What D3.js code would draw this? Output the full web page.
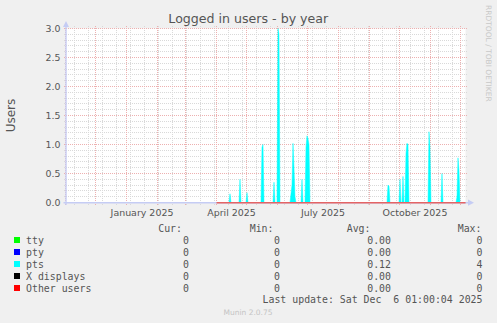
<!DOCTYPE html>
<html>
<head>
<meta charset="utf-8">
<script src="https://cdn.jsdelivr.net/npm/d3@7"></script>
<style>
body { margin: 0; background: #f0f0f0; }
text { font-family: "DejaVu Sans"; }
.mono { font-family: "DejaVu Sans Mono"; }
</style>
</head>
<body>
<script>
// pts daily averages (days not listed are 0)
var ptsDays = ["2025-04-14", "2025-04-24", "2025-05-01", "2025-05-16", "2025-05-17", "2025-05-28",
	"2025-06-01", "2025-06-02", "2025-06-14", "2025-06-15", "2025-06-16", "2025-06-17", "2025-06-18",
	"2025-06-25", "2025-06-29", "2025-06-30", "2025-07-01", "2025-07-02",
	"2025-09-19", "2025-09-20", "2025-10-01", "2025-10-04", "2025-10-07", "2025-10-08", "2025-10-09",
	"2025-10-30", "2025-10-31", "2025-11-12", "2025-11-27", "2025-11-28", "2025-11-29"];
var ptsUsers = [0.15, 0.4, 0.17, 0.95, 1.0, 0.35,
	3.0, 2.9, 0.15, 0.3, 1.02, 0.6, 0.1,
	0.4, 0.95, 1.15, 1.1, 1.0,
	0.3, 0.28, 0.4, 0.45, 0.85, 1.02, 1.0,
	1.22, 0.95, 0.5, 0.1, 0.77, 0.55];

var dataStart = "2025-04-01";
var graphStart = "2024-11-01";
var graphEnd = "2025-12-06T01:00:04Z";

var seriesNames = ["tty", "pty", "pts", "X displays", "Other users"];
var seriesColors = ["#00ff00", "#0000ff", "#00ffff", "#000000", "#ff0000"];
var curValues = ["0", "0", "0", "0", "0"];
var minValues = ["0", "0", "0", "0", "0"];
var avgValues = ["0.00", "0.00", "0.12", "0.00", "0.00"];
var maxValues = ["0", "0", "4", "0", "0"];

var width = 497;
var height = 323;

var parseDay = d3.utcParse("%Y-%m-%d");
var t0 = parseDay(graphStart);
var t1 = new Date(graphEnd);
var tData = parseDay(dataStart);

var x = d3.scaleUtc().domain([t0, t1]).range([65.5, 465.54]);
var y = d3.scaleLinear().domain([0, 3]).range([202.5, 28.5]);

var svg = d3.select("body").append("svg")
	.attr("width", width)
	.attr("height", height);

svg.append("rect")
	.attr("width", width).attr("height", height)
	.attr("fill", "#f0f0f0");
svg.append("rect")
	.attr("x", x.range()[0]).attr("y", y.range()[1])
	.attr("width", x.range()[1] - x.range()[0])
	.attr("height", y.range()[0] - y.range()[1])
	.attr("fill", "#ffffff");

// grid
var gGrid = svg.append("g").attr("stroke-dasharray", "1,1").attr("stroke-width", 1).attr("shape-rendering", "crispEdges");
var minorY = y.ticks(30).filter(function(v){ return Math.round(v * 10) % 5 != 0; });
var majorY = y.ticks(6);
var minorX = d3.utcDay.range(parseDay("2024-11-10"), t1, 14);
var majorX = d3.utcMonth.range(t0, t1);

gGrid.selectAll(".hmin").data(minorY).enter().append("line")
	.attr("x1", 63.5).attr("x2", 468)
	.attr("y1", function(d){ return Math.round(y(d) - 0.5) + 0.5; })
	.attr("y2", function(d){ return Math.round(y(d) - 0.5) + 0.5; })
	.attr("stroke", "#d9d9d9");
gGrid.selectAll(".vmin").data(minorX).enter().append("line")
	.attr("x1", function(d){ return x(d); }).attr("x2", function(d){ return x(d); })
	.attr("y1", 26).attr("y2", 205)
	.attr("stroke", "#d9d9d9");
gGrid.selectAll(".hmaj").data(majorY).enter().append("line")
	.attr("x1", 63.5).attr("x2", 468)
	.attr("y1", function(d){ return Math.round(y(d) - 0.5) + 0.5; })
	.attr("y2", function(d){ return Math.round(y(d) - 0.5) + 0.5; })
	.attr("stroke", "#edb0b0");
gGrid.selectAll(".vmaj").data(majorX).enter().append("line")
	.attr("x1", function(d){ return x(d); }).attr("x2", function(d){ return x(d); })
	.attr("y1", 26).attr("y2", 205)
	.attr("stroke", "#edb0b0");

// pts series, one point per day at noon
var lookup = {};
ptsDays.forEach(function(d, i){ lookup[d] = ptsUsers[i]; });
var fmtDay = d3.utcFormat("%Y-%m-%d");
var pts = d3.utcDay.range(tData, t1).map(function(d){
	var v = lookup[fmtDay(d)];
	return { t: d3.utcHour.offset(d, 12), v: v === undefined ? 0 : v };
});

var area = d3.area()
	.x(function(d){ return x(d.t); })
	.y0(y(0))
	.y1(function(d){ return y(d.v); });
svg.append("path")
	.datum(pts)
	.attr("d", area)
	.attr("fill", "#00ffff")
	.attr("stroke", "#00ffff")
	.attr("stroke-width", 0.6)
	.attr("stroke-opacity", 0.8);

// axes
var axisColor = "#c5ccf4";
svg.append("line")
	.attr("x1", 66).attr("x2", 66).attr("y1", 205).attr("y2", 25)
	.attr("stroke", axisColor).attr("stroke-width", 1.4);
svg.append("line")
	.attr("x1", 63.5).attr("x2", 469).attr("y1", 202.7).attr("y2", 202.7)
	.attr("stroke", axisColor).attr("stroke-width", 1.4);
svg.append("path")
	.attr("d", "M63,27L69,27L66,21Z")
	.attr("fill", axisColor);
svg.append("path")
	.attr("d", "M468,199.5L468,205.8L474,202.7Z")
	.attr("fill", axisColor);

// other users (zero) line
svg.append("path")
	.datum([tData, t1])
	.attr("d", d3.line().x(function(d){ return x(d); }).y(y(0) + 0.2))
	.attr("stroke", "#e46464")
	.attr("stroke-width", 1.4)
	.attr("fill", "none");

// tick labels
var yFmt = d3.format(".1f");
svg.append("g").selectAll("text").data(majorY).enter().append("text")
	.attr("x", 60.5)
	.attr("y", function(d){ return y(d) + 3.4; })
	.attr("text-anchor", "end")
	.attr("font-size", "9.4px")
	.attr("fill", "#555")
	.text(function(d){ return yFmt(d); });

var xLabels = d3.utcMonth.every(3).range(t0, t1);
var xFmt = d3.utcFormat("%B %Y");
svg.append("g").selectAll("text").data(xLabels).enter().append("text")
	.attr("x", function(d){ return (x(d) + x(d3.utcMonth.offset(d, 1))) / 2; })
	.attr("y", 216)
	.attr("text-anchor", "middle")
	.attr("font-size", "9.45px")
	.attr("fill", "#555")
	.text(function(d){ return xFmt(d); });

// title and labels
svg.append("text")
	.attr("x", 248.3).attr("y", 23)
	.attr("text-anchor", "middle")
	.attr("font-size", "12.6px")
	.attr("fill", "#555")
	.text("Logged in users - by year");

svg.append("text")
	.attr("transform", "translate(15," + ((y.range()[0] + y.range()[1]) / 2) + ") rotate(-90)")
	.attr("text-anchor", "middle")
	.attr("font-size", "12px")
	.attr("fill", "#555")
	.text("Users");

svg.append("text")
	.attr("transform", "translate(485.7,5) rotate(90)")
	.attr("font-size", "7.5px")
	.attr("fill", "#c8c8c8")
	.text("RRDTOOL / TOBI OETIKER");

// legend
var legend = svg.append("g").attr("class", "mono").attr("font-size", "9.9px").attr("fill", "#555");
var heads = ["Cur:", "Min:", "Avg:", "Max:"];
var headX = [182, 273.5, 370.5, 481.5];
var colX = [189, 280, 391, 482.5];
legend.selectAll(".head").data(heads).enter().append("text")
	.attr("class", "mono")
	.attr("x", function(d, i){ return headX[i]; })
	.attr("y", 232)
	.attr("text-anchor", "end")
	.text(function(d){ return d; });

var rows = legend.selectAll(".row").data(seriesNames).enter().append("g")
	.attr("transform", function(d, i){ return "translate(0," + (243.5 + i * 12) + ")"; });
rows.append("rect")
	.attr("x", 14).attr("y", -6.5).attr("width", 6).attr("height", 6)
	.attr("fill", function(d, i){ return seriesColors[i]; });
rows.append("text")
	.attr("class", "mono")
	.attr("x", 26)
	.text(function(d){ return d; });
[curValues, minValues, avgValues, maxValues].forEach(function(col, c){
	rows.append("text")
		.attr("class", "mono")
		.attr("x", colX[c])
		.attr("text-anchor", "end")
		.text(function(d, i){ return col[i]; });
});

legend.append("text")
	.attr("class", "mono")
	.attr("x", 482.5).attr("y", 303)
	.attr("text-anchor", "end")
	.style("white-space", "pre")
	.text("Last update: Sat Dec  6 01:00:04 2025");

svg.append("text")
	.attr("x", 248).attr("y", 315)
	.attr("text-anchor", "middle")
	.attr("font-size", "7.5px")
	.attr("fill", "#c4c4c4")
	.text("Munin 2.0.75");
</script>
</body>
</html>
